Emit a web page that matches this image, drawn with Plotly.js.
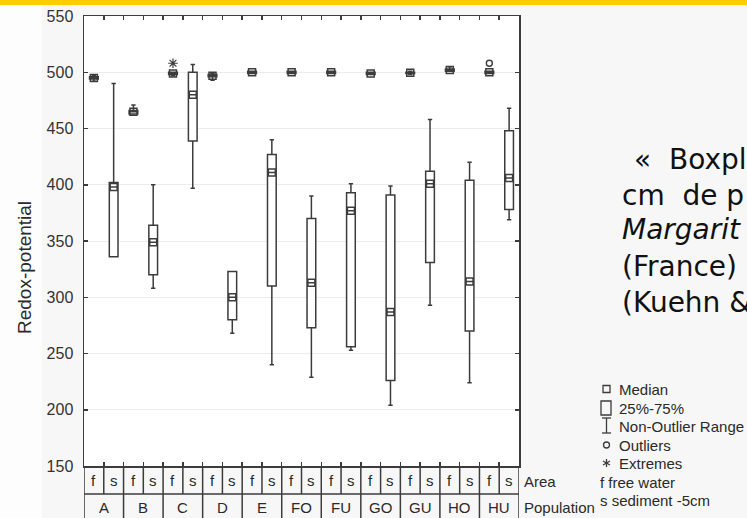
<!DOCTYPE html>
<html>
<head>
<meta charset="utf-8">
<script src="https://cdn.plot.ly/plotly-3.0.1.min.js"></script>
<style>
  html, body { margin: 0; padding: 0; background: #f7f7f7; }
  #chart { width: 747px; height: 518px; }
</style>
</head>
<body>
<div id="chart"></div>
<script>
// ---- Data ----
const populations = ['A', 'B', 'C', 'D', 'E', 'FO', 'FU', 'GO', 'GU', 'HO', 'HU'];
const areas = ['f', 's'];
// one entry per column: A-f, A-s, B-f, B-s, ... HU-f, HU-s
const lowerWhisker = [492, 336, 463, 308, 497, 397, 493, 268, 499, 240, 499, 229, 499, 253, 498, 204, 498, 293, 501, 224, 499, 369];
const q1Values     = [494, 336, 463, 320, 498, 439, 496, 280, 499, 310, 499, 273, 499, 256, 498, 226, 499, 331, 501, 270, 499, 378];
const medianValues = [495, 398, 465, 349, 499, 480, 497, 300, 500, 411, 500, 313, 500, 377, 499, 287, 499.5, 401, 502, 314, 500, 406];
const q3Values     = [496, 402, 466, 364, 500, 500, 498, 323, 501, 427, 501, 370, 501, 393, 500, 391, 500, 412, 503, 404, 501, 448];
const upperWhisker = [497, 490, 471, 400, 500, 507, 499, 323, 501, 440, 501, 390, 501, 401, 500, 399, 501, 458, 505, 420, 501, 468];
// outliers and extremes: [population, area, value]
const outlierPoints = [['HU', 'f', 508]];
const extremePoints = [['C', 'f', 508]];
const yTickValues = [150, 200, 250, 300, 350, 400, 450, 500, 550];

// ---- Build ----
const nCols = populations.length * areas.length;
const colIndex = (p, a) => populations.indexOf(p) * areas.length + areas.indexOf(a);
const xs = [];
for (let i = 0; i < nCols; i++) xs.push(i);

const ink = '#3c3c3c';

const boxTrace = {
  type: 'box',
  x: xs,
  q1: q1Values,
  median: medianValues,
  q3: q3Values,
  lowerfence: lowerWhisker,
  upperfence: upperWhisker,
  boxpoints: false,
  width: 0.44,
  whiskerwidth: 0.5,
  fillcolor: '#ffffff',
  line: { color: ink, width: 1.5 },
  hoverinfo: 'skip',
  showlegend: false
};

const medianTrace = {
  type: 'scatter', mode: 'markers',
  x: xs, y: medianValues,
  marker: { symbol: 'square-open', size: 7, color: ink, line: { width: 1.5, color: ink } },
  hoverinfo: 'skip', showlegend: false
};

const outlierTrace = {
  type: 'scatter', mode: 'markers',
  x: outlierPoints.map(d => colIndex(d[0], d[1])),
  y: outlierPoints.map(d => d[2]),
  marker: { symbol: 'circle-open', size: 6, color: ink, line: { width: 1.4, color: ink } },
  hoverinfo: 'skip', showlegend: false
};

const extremeTrace = {
  type: 'scatter', mode: 'markers',
  x: extremePoints.map(d => colIndex(d[0], d[1])),
  y: extremePoints.map(d => d[2]),
  marker: { symbol: 'asterisk-open', size: 8, color: ink, line: { width: 1.2, color: ink } },
  hoverinfo: 'skip', showlegend: false
};

// pixel helpers for decorative layout (plot area: x 84..519, y 16..466)
const L = 84, W = 435, T = 16, H = 450;
const px = v => (v - L) / W;
const py = v => (T + H - v) / H;

const shapes = [];
const annotations = [];

// top yellow bar and left white strip (slide decoration)
shapes.push({ type: 'rect', xref: 'paper', yref: 'paper', x0: px(0), x1: px(747), y0: py(5), y1: py(0),
  fillcolor: '#FFCC00', line: { width: 0 }, layer: 'below' });
shapes.push({ type: 'rect', xref: 'paper', yref: 'paper', x0: px(0), x1: px(42), y0: py(518), y1: py(5),
  fillcolor: '#fdfdfd', line: { width: 0 }, layer: 'below' });

// category table below the plot
const rowSplit = py(494), tableBottom = py(522);
shapes.push({ type: 'line', xref: 'x', yref: 'paper', x0: -0.5, x1: nCols - 0.5, y0: rowSplit, y1: rowSplit,
  line: { color: ink, width: 1.5 } });
for (let i = 0; i <= nCols; i++) {
  shapes.push({ type: 'line', xref: 'x', yref: 'paper', x0: i - 0.5, x1: i - 0.5, y0: 0, y1: rowSplit,
    line: { color: ink, width: 1.5 } });
}
for (let p = 0; p <= populations.length; p++) {
  const xb = p * areas.length - 0.5;
  shapes.push({ type: 'line', xref: 'x', yref: 'paper', x0: xb, x1: xb, y0: rowSplit, y1: tableBottom,
    line: { color: ink, width: 1.5 } });
}
const tableFont = { family: 'Liberation Sans, Arial, sans-serif', size: 15, color: '#2a2a2a' };
populations.forEach((p, pi) => {
  areas.forEach((a, ai) => {
    annotations.push({ xref: 'x', yref: 'paper', x: pi * areas.length + ai, y: py(480), text: a,
      showarrow: false, font: tableFont, xanchor: 'center', yanchor: 'middle' });
  });
  annotations.push({ xref: 'x', yref: 'paper', x: pi * areas.length + 0.5, y: py(507), text: p,
    showarrow: false, font: tableFont, xanchor: 'center', yanchor: 'middle' });
});
annotations.push({ xref: 'paper', yref: 'paper', x: px(522), y: py(481), text: 'Area', showarrow: false,
  font: tableFont, xanchor: 'left', yanchor: 'middle' });
annotations.push({ xref: 'paper', yref: 'paper', x: px(522), y: py(507), text: 'Population', showarrow: false,
  font: tableFont, xanchor: 'left', yanchor: 'middle' });

// y axis title
annotations.push({ xref: 'paper', yref: 'paper', x: px(24), y: py(268), text: 'Redox-potential', textangle: -90,
  showarrow: false, font: { family: 'Liberation Sans, Arial, sans-serif', size: 19, color: '#2a2a2a' },
  xanchor: 'center', yanchor: 'middle' });

// legend (key)
const legFont = { family: 'Liberation Sans, Arial, sans-serif', size: 15, color: '#2a2a2a' };
const legItems = [['Median', 389], ['25%-75%', 408], ['Non-Outlier Range', 426], ['Outliers', 445], ['Extremes', 463]];
legItems.forEach(d => annotations.push({ xref: 'paper', yref: 'paper', x: px(617), y: py(d[1]), text: d[0],
  showarrow: false, font: legFont, xanchor: 'left', yanchor: 'middle' }));
annotations.push({ xref: 'paper', yref: 'paper', x: px(598), y: py(482), text: 'f free water',
  showarrow: false, font: legFont, xanchor: 'left', yanchor: 'middle' });
annotations.push({ xref: 'paper', yref: 'paper', x: px(598), y: py(500), text: 's sediment -5cm',
  showarrow: false, font: legFont, xanchor: 'left', yanchor: 'middle' });
const lk = { color: ink, width: 1.3 };
const pl = (x0, y0, x1, y1) => shapes.push({ type: 'line', xref: 'paper', yref: 'paper', x0: px(x0), x1: px(x1), y0: py(y0), y1: py(y1), line: lk });
shapes.push({ type: 'rect', xref: 'paper', yref: 'paper', x0: px(603), x1: px(610), y0: py(392.5), y1: py(385.5), line: lk });
shapes.push({ type: 'rect', xref: 'paper', yref: 'paper', x0: px(601), x1: px(611), y0: py(415), y1: py(401), line: lk });
pl(602, 418, 611, 418); pl(606.5, 418, 606.5, 433); pl(602, 433, 611, 433);
shapes.push({ type: 'circle', xref: 'paper', yref: 'paper', x0: px(603.5), x1: px(609.5), y0: py(448), y1: py(442), line: lk });
pl(606.5, 459, 606.5, 467); pl(603, 461, 610, 465); pl(603, 465, 610, 461);

// side text of the slide (only the part visible in the reference, which is cut at the right edge)
const sideFont = { family: 'DejaVu Sans, Verdana, sans-serif', size: 28, color: '#111111' };
const NB = '\u00a0';
const sideLines = [
  [631.7, 159, '«' + NB + NB + 'Boxpl'],
  [620, 195, 'cm' + NB + NB + 'de' + NB + 'p'],
  [620, 230, '<i>Margarit</i>'],
  [620, 266, '(France)'],
  [620, 302, '(Kuehn &']
];
sideLines.forEach(d => annotations.push({ xref: 'paper', yref: 'paper', x: px(d[0]), y: py(d[1]), text: d[2],
  showarrow: false, font: sideFont, xanchor: 'left', yanchor: 'middle' }));

const boundaries = [];
for (let i = 1; i < nCols; i++) boundaries.push(i - 0.5);

const layout = {
  width: 747, height: 518,
  margin: { l: L, r: 747 - L - W, t: T, b: 518 - T - H, pad: 0 },
  paper_bgcolor: '#f7f7f7',
  plot_bgcolor: '#ffffff',
  showlegend: false,
  xaxis: {
    type: 'linear', range: [-0.5, nCols - 0.5],
    tickmode: 'array', tickvals: boundaries, showticklabels: false,
    ticks: 'inside', ticklen: 4, tickwidth: 1.5, tickcolor: ink,
    showline: true, linecolor: ink, linewidth: 1.5, mirror: 'ticks',
    showgrid: false, zeroline: false, fixedrange: true
  },
  yaxis: {
    range: [150, 550], tickmode: 'array', tickvals: yTickValues,
    ticks: 'inside', ticklen: 4, tickwidth: 1.5, tickcolor: ink,
    ticklabelstandoff: 6,
    tickfont: { family: 'Liberation Sans, Arial, sans-serif', size: 16, color: '#333333' },
    showline: true, linecolor: ink, linewidth: 1.5, mirror: 'ticks',
    showgrid: true, gridcolor: '#ececec', gridwidth: 1, zeroline: false, fixedrange: true
  },
  shapes: shapes,
  annotations: annotations
};

Plotly.newPlot('chart', [boxTrace, medianTrace, outlierTrace, extremeTrace], layout, { staticPlot: true, displayModeBar: false });
</script>
</body>
</html>
